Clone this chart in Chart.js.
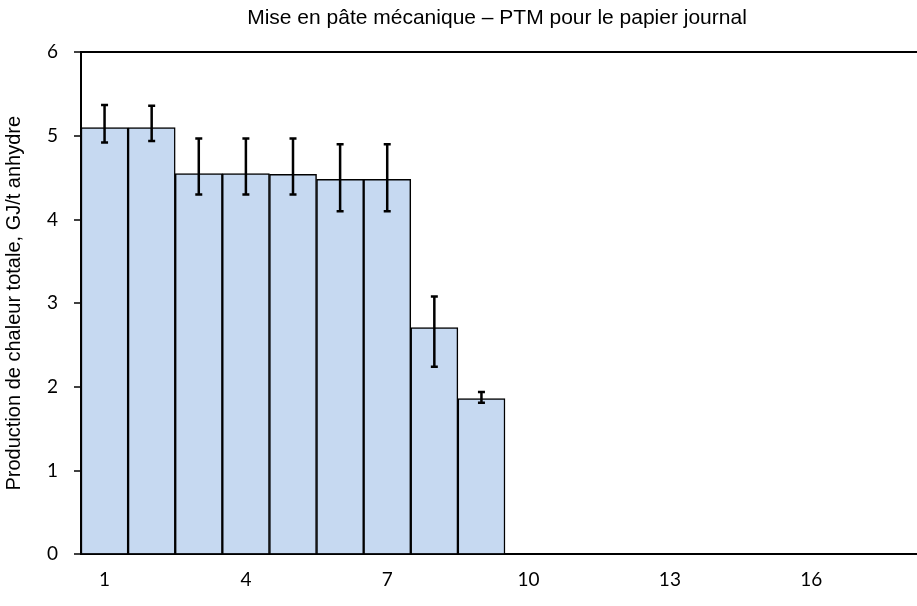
<!DOCTYPE html>
<html>
<head>
<meta charset="utf-8">
<script src="https://cdn.jsdelivr.net/npm/chart.js@4"></script>
<style>
  html, body { margin: 0; padding: 0; background: #fff; overflow: hidden; }
  #cadre { width: 917px; height: 606px; overflow: hidden; }
</style>
</head>
<body>
<div id="cadre">
  <canvas id="graphique" width="992" height="606"></canvas>
</div>
<script>
// Catégories de l'axe X (1 à 18)
const categories = ['1','2','3','4','5','6','7','8','9','10','11','12','13','14','15','16','17','18'];
// Production de chaleur totale (GJ/t anhydre)
const valeurs = [5.10, 5.10, 4.55, 4.55, 4.54, 4.48, 4.48, 2.71, 1.86];
// Bornes des barres d'erreur
const erreurHaut = [5.37, 5.36, 4.97, 4.97, 4.97, 4.90, 4.90, 3.08, 1.94];
const erreurBas = [4.92, 4.94, 4.30, 4.30, 4.30, 4.10, 4.10, 2.24, 1.81];
// Graduations de l'axe Y
const graduationsY = [0, 1, 2, 3, 4, 5, 6];

// Plugin pour dessiner les barres d'erreur
const barresErreur = {
    id: 'barresErreur',
    afterDatasetsDraw(chart) {
        const ctx = chart.ctx;
        const meta = chart.getDatasetMeta(0);
        const y = chart.scales.y;
        ctx.save();
        ctx.strokeStyle = '#000';
        ctx.lineWidth = 2.5;
        meta.data.forEach((barre, i) => {
            if (erreurHaut[i] === undefined) return;
            const x = barre.x;
            const yH = y.getPixelForValue(erreurHaut[i]);
            const yB = y.getPixelForValue(erreurBas[i]);
            ctx.beginPath();
            ctx.moveTo(x, yH); ctx.lineTo(x, yB);
            ctx.moveTo(x - 3.5, yH); ctx.lineTo(x + 3.5, yH);
            ctx.moveTo(x - 3.5, yB); ctx.lineTo(x + 3.5, yB);
            ctx.stroke();
        });
        ctx.restore();
    }
};

const ctx = document.getElementById('graphique').getContext('2d');
new Chart(ctx, {
    type: 'bar',
    data: {
        labels: categories,
        datasets: [{
            data: valeurs,
            backgroundColor: '#c6d9f1',
            borderColor: '#000',
            borderWidth: 1.5,
            barPercentage: 1,
            categoryPercentage: 1
        }]
    },
    options: {
        responsive: false,
        animation: false,
        layout: { padding: { top: 4, right: 0, left: 2, bottom: 1 } },
        plugins: {
            legend: { display: false },
            tooltip: { enabled: false },
            title: {
                display: true,
                text: 'Mise en pâte mécanique – PTM pour le papier journal',
                color: '#000',
                font: { family: 'Liberation Sans', size: 21, weight: 'normal' },
                padding: { top: 2, bottom: 21 }
            }
        },
        scales: {
            y: {
                min: 0,
                max: 6,
                afterBuildTicks: (axe) => { axe.ticks = graduationsY.map(v => ({ value: v })); },
                afterFit: (axe) => { axe.width = 79; },
                title: {
                    display: true,
                    text: 'Production de chaleur totale, GJ/t anhydre',
                    color: '#000',
                    font: { family: 'Liberation Sans', size: 20 },
                    padding: { top: 0, bottom: 0 }
                },
                ticks: {
                    color: '#000',
                    font: { family: 'Lato', size: 19 },
                    padding: 16
                },
                grid: {
                    color: (c) => c.tick && c.tick.value === 6 ? '#000' : 'rgba(0,0,0,0)',
                    lineWidth: 2,
                    tickColor: '#000',
                    tickLength: 7,
                    tickWidth: 1.5
                },
                border: { display: true, color: '#000', width: 2 }
            },
            // Axe invisible à droite : la zone de tracé dépasse la fenêtre
            yDroite: {
                position: 'right',
                display: true,
                afterFit: (axe) => { axe.width = 63; },
                ticks: { display: false },
                grid: { display: false },
                border: { display: false }
            },
            x: {
                ticks: {
                    color: '#000',
                    font: { family: 'Lato', size: 19 },
                    autoSkip: false,
                    maxRotation: 0,
                    padding: 14,
                    callback: function(value, index) {
                        return index % 3 === 0 ? this.getLabelForValue(value) : '';
                    }
                },
                grid: { display: false, drawTicks: false, tickLength: 0 },
                border: { display: true, color: '#000', width: 2 }
            }
        }
    },
    plugins: [barresErreur]
});
</script>
</body>
</html>
